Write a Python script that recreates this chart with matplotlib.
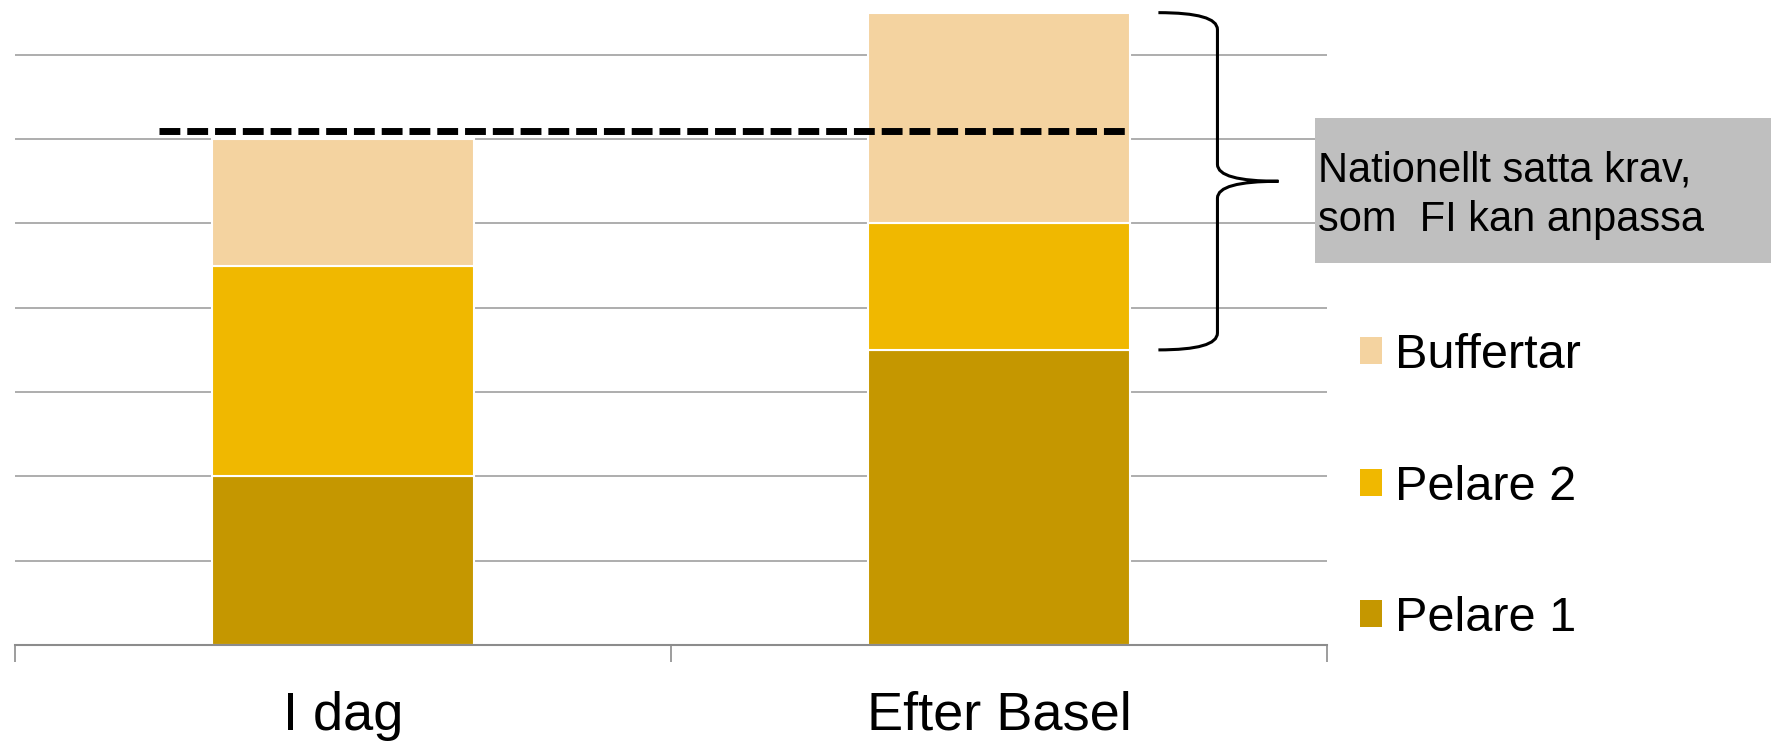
import matplotlib
matplotlib.use("Agg")
import matplotlib.pyplot as plt
from matplotlib.patches import Patch, PathPatch, Rectangle
from matplotlib.path import Path

plt.rcParams["font.family"] = ["Liberation Sans", "DejaVu Sans"]

categories = ["I dag", "Efter Basel"]
series = ["Pelare 1", "Pelare 2", "Buffertar"]
pelare1 = [2.0, 3.5]
pelare2 = [2.5, 1.5]
buffertar = [1.5, 2.5]
colors = ["#C59700", "#F0B800", "#F4D3A0"]
minimum_level = 6.1          # dashed line
box_text = "Nationellt satta krav,\nsom  FI kan anpassa"

W, H = 1771, 741
fig = plt.figure(figsize=(W / 100, H / 100), dpi=100)
ax = fig.add_axes([15 / W, (H - 645) / H, 1312 / W, 645 / H])

x = list(range(len(categories)))
width = 0.4
bottom = [0.0] * len(categories)
for name, vals, c in zip(series, [pelare1, pelare2, buffertar], colors):
    ax.bar(x, vals, width, bottom=bottom, color=c, edgecolor="white",
           linewidth=1.5, label=name, zorder=2)
    bottom = [b + v for b, v in zip(bottom, vals)]

ax.set_xlim(-0.5, 1.5)
ax.set_ylim(0, 7.65)
ax.set_yticks(range(1, 8))
ax.yaxis.grid(True, color="#A0A0A0", linewidth=1.2, zorder=0)
ax.set_axisbelow(True)
ax.tick_params(axis="y", length=0, labelleft=False)
for s in ["top", "right", "left"]:
    ax.spines[s].set_visible(False)
ax.spines["bottom"].set_color("#8C8C8C")
ax.spines["bottom"].set_linewidth(1.5)

ax.set_xticks(x)
ax.set_xticklabels(categories, fontsize=39)
ax.tick_params(axis="x", which="major", length=0, pad=33)
ax.set_xticks([-0.5, 0.5, 1.5], minor=True)
ax.tick_params(axis="x", which="minor", length=12, width=1.2, color="#8C8C8C")

# dashed line: minimum level
ax.hlines(minimum_level, -0.28, x[1] + width / 2, colors="black",
          linewidth=5, linestyles=(0, (3, 1)), zorder=4, capstyle="butt")

# curly brace spanning pelare 2 + buffertar of the second bar
top = pelare1[1] + pelare2[1] + buffertar[1]
low = pelare1[1]
mid = (top + low) / 2
x0, xs, xt = 1.243, 1.333, 1.426
r = 0.2
verts = [(x0, top), (xs, top), (xs, top - r),
         (xs, mid + r), (xs, mid), (xt, mid),
         (xs, mid), (xs, mid - r),
         (xs, low + r), (xs, low), (x0, low)]
codes = [Path.MOVETO, Path.CURVE3, Path.CURVE3,
         Path.LINETO, Path.CURVE3, Path.CURVE3,
         Path.CURVE3, Path.CURVE3,
         Path.LINETO, Path.CURVE3, Path.CURVE3]
ax.add_patch(PathPatch(Path(verts, codes), fill=False, edgecolor="black",
                       linewidth=2.2, zorder=5, clip_on=False))

# grey annotation box
fig.patches.append(Rectangle((1315 / W, (H - 263) / H), (W - 1315) / W, 145 / H,
                             transform=fig.transFigure, facecolor="#BFBFBF",
                             edgecolor="none", zorder=1))
fig.text(1318 / W, (H - 195) / H, box_text, fontsize=30, ha="left",
         va="center", linespacing=1.3, zorder=3)

handles = [Patch(facecolor=c, edgecolor="none") for c in colors][::-1]
fig.legend(handles, series[::-1], loc="upper left",
           bbox_to_anchor=(1360 / W, (H - 333) / H), bbox_transform=fig.transFigure,
           frameon=False, fontsize=35, borderpad=0, borderaxespad=0,
           handlelength=0.45, handleheight=0.47, handletextpad=0.28,
           labelspacing=1.78)

fig.savefig("out.png", dpi=100)
